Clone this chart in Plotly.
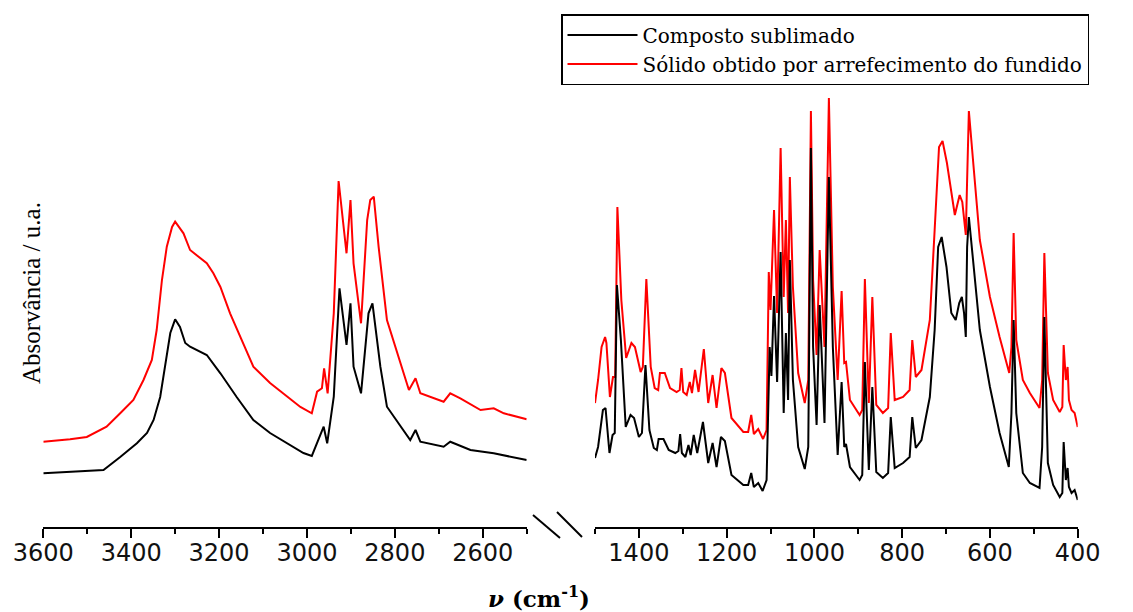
import plotly.graph_objects as go

W, H = 1133, 612
OFF = 8  # the page adds an 8 px body margin; positions below are page pixels minus this

# ---------------- data (wavenumber / cm-1, absorbance a.u.) ----------------
left_wn_sub = [3600, 3463, 3425, 3387, 3364, 3349, 3334, 3319, 3311, 3300, 3289, 3277, 3266,
               3228, 3197, 3160, 3122, 3084, 3046, 3008, 2989,
               2974, 2962, 2954, 2939, 2926, 2910, 2901, 2894, 2877, 2860, 2851, 2833,
               2818, 2765, 2753, 2742, 2689, 2674, 2628, 2575, 2500]
left_abs_sub = [0.567, 0.60, 0.73, 0.867, 0.97, 1.10, 1.33, 1.767, 1.97, 2.107, 2.03, 1.87, 1.833,
                1.75, 1.567, 1.33, 1.10, 0.97, 0.867, 0.77, 0.74,
                0.90, 1.033, 0.867, 1.333, 2.417, 1.85, 2.267, 1.633, 1.367, 2.167, 2.267, 1.633,
                1.233, 0.90, 1.00, 0.883, 0.833, 0.883, 0.80, 0.767, 0.70]

left_wn_melt = [3600, 3539, 3501, 3456, 3425, 3395, 3372, 3353, 3342, 3330, 3319, 3307, 3300,
                3281, 3266, 3228, 3213, 3197, 3175, 3152, 3122, 3084, 3046, 3015, 2989,
                2977, 2966, 2961, 2953, 2939, 2928, 2910, 2901,
                2894, 2877, 2863, 2856, 2848, 2837, 2818, 2768, 2753, 2742, 2689, 2674,
                2651, 2605, 2575, 2552, 2500]
left_abs_melt = [0.883, 0.907, 0.93, 1.033, 1.167, 1.30, 1.50, 1.70, 2.00, 2.50, 2.833, 3.03, 3.083,
                 2.967, 2.80, 2.667, 2.567, 2.43, 2.167, 1.93, 1.633, 1.47, 1.333, 1.23, 1.167,
                 1.383, 1.417, 1.617, 1.367, 2.167, 3.49, 2.767, 3.30,
                 2.667, 2.067, 3.10, 3.30, 3.333, 2.833, 2.10, 1.40, 1.517, 1.367, 1.283, 1.367,
                 1.317, 1.20, 1.217, 1.167, 1.107]

right_wn_sub = [1500, 1493, 1482, 1476, 1467, 1460, 1455, 1450, 1441, 1430,
                1419, 1411, 1400, 1393, 1385, 1376, 1366, 1359, 1355, 1344,
                1332, 1317, 1310, 1306, 1302, 1294, 1287, 1282, 1275, 1267,
                1254, 1242, 1232, 1223, 1213, 1204, 1189, 1162, 1151, 1144,
                1138, 1128, 1118, 1109, 1102, 1098, 1092, 1085, 1077, 1070,
                1065, 1060, 1056, 1049, 1037, 1022, 1014, 1008, 1003, 995,
                988, 977, 967, 958, 947, 938, 932, 928, 919, 897,
                891, 885, 876, 868, 859, 844, 832, 826, 817, 798,
                783, 777, 769, 756, 737, 726, 718, 710, 699, 688,
                678, 670, 664, 659, 655, 652, 648, 638, 623, 600,
                578, 557, 551, 546, 540, 525, 509, 487, 481, 476,
                468, 456, 441, 435, 432, 427, 423, 420, 414, 407,
                400]
right_abs_sub = [0.72, 0.83, 1.20, 1.22, 0.77, 0.95, 0.97, 2.45, 1.90, 1.03,
                 1.15, 1.12, 0.93, 0.97, 1.65, 1.00, 0.82, 0.80, 0.91, 0.91,
                 0.80, 0.77, 0.79, 0.96, 0.77, 0.73, 0.85, 0.75, 0.95, 0.77,
                 1.08, 0.67, 0.87, 0.63, 0.93, 0.89, 0.55, 0.45, 0.45, 0.57,
                 0.43, 0.47, 0.39, 0.50, 1.83, 1.54, 2.34, 1.48, 2.78, 1.17,
                 1.97, 1.30, 2.70, 1.50, 0.83, 0.61, 0.83, 3.82, 1.83, 1.05,
                 2.25, 1.07, 3.53, 1.83, 0.75, 1.48, 0.83, 0.86, 0.63, 0.50,
                 0.55, 1.68, 0.60, 1.43, 0.58, 0.52, 0.57, 1.13, 0.62, 0.67,
                 0.73, 1.13, 0.82, 0.90, 1.33, 2.00, 2.83, 2.93, 2.63, 2.17,
                 2.10, 2.27, 2.33, 2.17, 1.93, 2.83, 3.13, 2.67, 2.00, 1.43,
                 0.97, 0.63, 1.17, 2.10, 1.17, 0.57, 0.47, 0.42, 0.83, 2.13,
                 0.67, 0.45, 0.33, 0.37, 0.88, 0.50, 0.62, 0.43, 0.37, 0.40,
                 0.30]

right_wn_melt = [1500, 1493, 1485, 1477, 1474, 1466, 1459, 1454, 1449, 1440,
                 1429, 1417, 1409, 1396, 1391, 1383, 1373, 1364, 1356, 1352,
                 1341, 1329, 1314, 1307, 1303, 1299, 1291, 1284, 1279, 1272,
                 1264, 1252, 1242, 1232, 1223, 1212, 1204, 1189, 1162, 1151,
                 1144, 1138, 1128, 1117, 1109, 1104, 1100, 1092, 1085, 1077,
                 1070, 1065, 1060, 1056, 1049, 1037, 1022, 1014, 1008, 1003,
                 995, 988, 977, 967, 958, 947, 938, 932, 928, 919,
                 897, 891, 885, 876, 868, 859, 844, 832, 826, 817,
                 798, 783, 777, 769, 756, 737, 726, 716, 708, 698,
                 680, 669, 663, 659, 655, 652, 648, 638, 623, 600,
                 578, 556, 551, 546, 540, 525, 509, 487, 481, 476,
                 468, 456, 441, 435, 432, 427, 423, 420, 414, 407,
                 400]
right_abs_melt = [1.27, 1.50, 1.83, 1.93, 1.87, 1.33, 1.53, 1.53, 3.23, 2.30,
                  1.72, 1.87, 1.83, 1.58, 1.63, 2.51, 1.63, 1.42, 1.40, 1.57,
                  1.57, 1.42, 1.38, 1.40, 1.62, 1.38, 1.35, 1.48, 1.37, 1.60,
                  1.38, 1.81, 1.27, 1.55, 1.22, 1.62, 1.57, 1.12, 0.98, 0.98,
                  1.15, 0.96, 1.01, 0.91, 1.00, 2.58, 2.20, 3.20, 2.17, 3.82,
                  2.33, 3.10, 2.17, 3.53, 2.43, 1.57, 1.27, 1.50, 4.19, 2.50,
                  1.75, 2.80, 1.83, 4.32, 2.43, 1.50, 2.39, 1.67, 1.68, 1.30,
                  1.15, 1.20, 2.51, 1.27, 2.33, 1.25, 1.17, 1.22, 1.97, 1.30,
                  1.33, 1.40, 1.90, 1.53, 1.60, 2.10, 3.00, 3.83, 3.89, 3.67,
                  3.15, 3.35, 3.28, 3.10, 2.95, 3.50, 4.19, 3.67, 2.90, 2.33,
                  1.93, 1.57, 1.83, 2.97, 1.90, 1.50, 1.37, 1.22, 1.50, 2.77,
                  1.57, 1.30, 1.18, 1.23, 1.85, 1.50, 1.63, 1.30, 1.20, 1.17,
                  1.03]

left_ticks = [3600, 3400, 3200, 3000, 2800, 2600]
left_minor = [3500, 3300, 3100, 2900, 2700, 2500]
right_ticks = [1400, 1200, 1000, 800, 600, 400]
right_minor = [1500, 1300, 1100, 900, 700, 500]

assert len(left_wn_sub) == len(left_abs_sub)
assert len(left_wn_melt) == len(left_abs_melt)
assert len(right_wn_sub) == len(right_abs_sub)
assert len(right_wn_melt) == len(right_abs_melt)

NAME_SUB = "Composto sublimado"
NAME_MELT = "Sólido obtido por arrefecimento do fundido"
RED = "#ff0000"
BLACK = "#000000"
LW = 2


def px(x):
    return (x - OFF) / W


def py(y):
    return (H - (y - OFF)) / H


fig = go.Figure()
fig.add_trace(go.Scatter(x=left_wn_melt, y=left_abs_melt, xaxis="x", yaxis="y", mode="lines",
                         line=dict(color=RED, width=LW), name=NAME_MELT, legendgroup="melt",
                         legendrank=2, showlegend=True))
fig.add_trace(go.Scatter(x=right_wn_melt, y=right_abs_melt, xaxis="x2", yaxis="y2", mode="lines",
                         line=dict(color=RED, width=LW), name=NAME_MELT, legendgroup="melt",
                         showlegend=False))
fig.add_trace(go.Scatter(x=left_wn_sub, y=left_abs_sub, xaxis="x", yaxis="y", mode="lines",
                         line=dict(color=BLACK, width=LW), name=NAME_SUB, legendgroup="sub",
                         legendrank=1, showlegend=True))
fig.add_trace(go.Scatter(x=right_wn_sub, y=right_abs_sub, xaxis="x2", yaxis="y2", mode="lines",
                         line=dict(color=BLACK, width=LW), name=NAME_SUB, legendgroup="sub",
                         showlegend=False))

ybot = 527.0   # page pixel of the axis line
ytop = 8.0     # page pixel of the plot-area top
ydom = [py(ybot), py(ytop)]
yrange = [(530 - ybot) / 100.0, (530 - ytop) / 100.0]

tickfont = dict(family="DejaVu Sans", size=24, color="#111111")
common_x = dict(showline=True, linecolor="black", linewidth=1.8, ticks="outside", ticklen=9,
                tickwidth=1.8, tickcolor="black", showgrid=False, zeroline=False,
                tickfont=tickfont, mirror=False, ticklabelstandoff=-6)

fig.update_layout(
    width=W, height=H,
    margin=dict(l=0, r=0, t=0, b=0, autoexpand=False),
    paper_bgcolor="white", plot_bgcolor="white",
    xaxis=dict(domain=[px(43.3), px(526.7)], range=[3600, 2500], tickmode="array",
               tickvals=left_ticks, anchor="y",
               minor=dict(ticks="outside", ticklen=5, tickwidth=1.8, tickcolor="black",
                          tickvals=left_minor, showgrid=False),
               **common_x),
    xaxis2=dict(domain=[px(595.0), px(1077.7)], range=[1500, 400], tickmode="array",
                tickvals=right_ticks, anchor="y2",
                minor=dict(ticks="outside", ticklen=5, tickwidth=1.8, tickcolor="black",
                           tickvals=right_minor, showgrid=False),
                **common_x),
    yaxis=dict(domain=ydom, range=yrange, visible=False, anchor="x"),
    yaxis2=dict(domain=ydom, range=yrange, visible=False, anchor="x2"),
    showlegend=True,
    legend=dict(x=px(561), y=py(14), xanchor="left", yanchor="top",
                bordercolor="black", borderwidth=1.5, bgcolor="white",
                font=dict(family="DejaVu Serif", size=20, color="black"),
                tracegroupgap=0, itemwidth=70),
)

# axis titles
fig.add_annotation(text="Absorvância / u.a.", textangle=-90, xref="paper", yref="paper",
                   x=px(31), y=py(293), xanchor="center", yanchor="middle", showarrow=False,
                   font=dict(family="Liberation Serif", size=25, color="black"))
fig.add_annotation(text="<b><i>ν</i> (cm<sup>-1</sup>)</b>", xref="paper", yref="paper",
                   x=px(539), y=py(597), xanchor="center", yanchor="middle", showarrow=False,
                   font=dict(family="DejaVu Serif", size=23, color="black"))

# axis break marks
for (x0, y0, x1, y1) in [(533, 515, 560, 538), (557, 512, 582, 537)]:
    fig.add_shape(type="line", xref="paper", yref="paper",
                  x0=px(x0), y0=py(y0), x1=px(x1), y1=py(y1),
                  line=dict(color="black", width=2))

fig.write_html("out.html")
